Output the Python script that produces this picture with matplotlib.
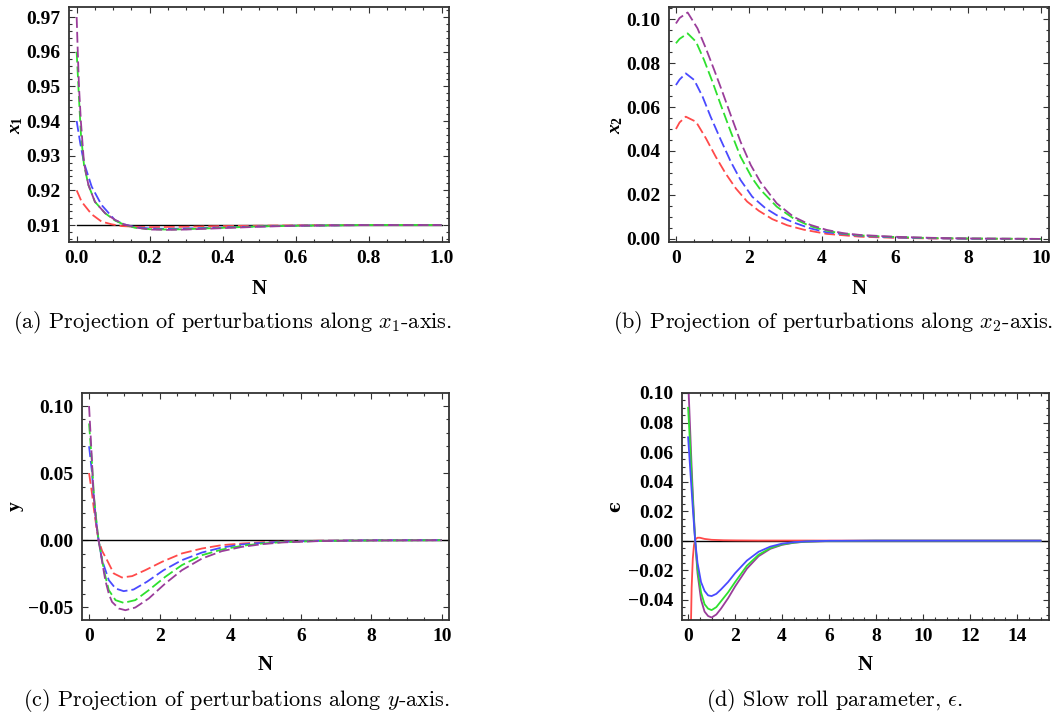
import matplotlib
matplotlib.use("Agg")
import matplotlib.pyplot as plt
from matplotlib.ticker import MultipleLocator, FuncFormatter

# --- fonts: bold Times-like ticks, Computer Modern captions ---
plt.rcParams['mathtext.fontset'] = 'custom'
plt.rcParams['mathtext.rm'] = 'Liberation Serif:bold'
plt.rcParams['mathtext.it'] = 'Liberation Serif:italic:bold'
plt.rcParams['mathtext.bf'] = 'Liberation Serif:bold'

colors = {'red': '#ff4a4a', 'blue': '#4a4aff', 'green': '#2ee02e', 'purple': '#9a3d9a'}
order = ['red', 'blue', 'green', 'purple']

# --- (a) x1 ---
a_n = {
    'purple': [0, 0.003, 0.0063, 0.0118, 0.02, 0.032, 0.05, 0.078, 0.105, 0.13, 0.16, 0.2, 0.25, 0.3, 0.4, 0.5, 0.6, 0.8, 1.0],
    'green': [0, 0.0073, 0.0118, 0.02, 0.032, 0.05, 0.078, 0.105, 0.13, 0.16, 0.2, 0.25, 0.3, 0.4, 0.5, 0.6, 0.8, 1.0],
    'blue': [0, 0.01, 0.02, 0.041, 0.068, 0.105, 0.13, 0.16, 0.2, 0.25, 0.3, 0.4, 0.5, 0.6, 0.8, 1.0],
    'red': [0, 0.0137, 0.041, 0.068, 0.096, 0.123, 0.16, 0.2, 0.3, 0.4, 0.5, 0.6, 0.8, 1.0],
}
a_x1 = {
    'purple': [0.970, 0.960, 0.950, 0.9395, 0.928, 0.9216, 0.9167, 0.9134, 0.9115, 0.9102, 0.9093, 0.9087, 0.9086, 0.9087, 0.9091, 0.9095, 0.9098, 0.9100, 0.9100],
    'green': [0.960, 0.9447, 0.936, 0.9274, 0.9216, 0.9167, 0.9134, 0.9113, 0.9101, 0.9092, 0.9088, 0.9087, 0.9088, 0.9092, 0.9096, 0.9098, 0.9100, 0.9100],
    'blue': [0.940, 0.9335, 0.928, 0.9211, 0.9158, 0.9114, 0.9102, 0.9094, 0.9090, 0.9089, 0.9090, 0.9093, 0.9096, 0.9098, 0.9100, 0.9100],
    'red': [0.920, 0.9167, 0.9131, 0.9110, 0.9102, 0.9097, 0.9095, 0.9094, 0.9095, 0.9097, 0.9098, 0.9099, 0.9100, 0.9100],
}
a_line = 0.91

# --- (b) x2 ---
b_n = {
    'purple': [0, 0.1, 0.32, 0.59, 0.82, 1.05, 1.27, 1.5, 1.77, 2.05, 2.31, 2.76, 3.22, 3.68, 4.13, 4.59, 5.05, 5.96, 7, 8, 10],
    'green': [0, 0.1, 0.32, 0.55, 0.77, 1.0, 1.23, 1.5, 1.77, 2.09, 2.31, 2.76, 3.22, 3.68, 4.13, 4.59, 5.05, 5.96, 7, 8, 10],
    'blue': [0, 0.1, 0.27, 0.5, 0.73, 0.95, 1.23, 1.5, 1.77, 2.09, 2.45, 2.76, 3.22, 3.68, 4.13, 5.05, 5.96, 7, 8, 10],
    'red': [0, 0.1, 0.27, 0.55, 0.82, 1.09, 1.36, 1.64, 1.95, 2.27, 2.64, 3.05, 3.5, 4.13, 5.05, 6, 7, 8, 10],
}
b_x2 = {
    'purple': [0.098, 0.1005, 0.103, 0.0958, 0.0867, 0.0768, 0.067, 0.0564, 0.0442, 0.0336, 0.026, 0.0162, 0.0101, 0.0064, 0.0041, 0.0026, 0.0018, 0.001, 0.0005, 0.0002, 0.0],
    'green': [0.089, 0.091, 0.0935, 0.0897, 0.0814, 0.0715, 0.0609, 0.0488, 0.0374, 0.0276, 0.0225, 0.0147, 0.0093, 0.0058, 0.0037, 0.0024, 0.0016, 0.0009, 0.0004, 0.0002, 0.0],
    'blue': [0.070, 0.0725, 0.0753, 0.0723, 0.0647, 0.0556, 0.045, 0.0352, 0.0268, 0.0192, 0.014, 0.0108, 0.0075, 0.0048, 0.003, 0.0014, 0.0007, 0.0003, 0.0001, 0.0],
    'red': [0.050, 0.053, 0.0556, 0.0533, 0.0458, 0.0374, 0.0298, 0.023, 0.017, 0.0128, 0.009, 0.0062, 0.0042, 0.0023, 0.001, 0.0005, 0.0002, 0.0001, 0.0],
}

# --- (c) y ---
c_n = {
    'purple': [0, 0.076, 0.12, 0.2, 0.27, 0.37, 0.46, 0.56, 0.65, 0.84, 1.03, 1.31, 1.69, 2.16, 2.63, 3.2, 3.76, 4.33, 4.9, 5.46, 6.5, 8, 10],
    'green': [0, 0.076, 0.14, 0.22, 0.27, 0.37, 0.42, 0.56, 0.75, 0.98, 1.31, 1.69, 2.16, 2.63, 3.2, 3.76, 4.33, 4.9, 5.46, 6.5, 8, 10],
    'blue': [0, 0.076, 0.14, 0.22, 0.27, 0.37, 0.56, 0.75, 0.98, 1.26, 1.64, 2.11, 2.63, 3.2, 3.76, 4.33, 4.9, 5.46, 6.5, 8, 10],
    'red': [0, 0.07, 0.14, 0.22, 0.27, 0.37, 0.51, 0.70, 0.93, 1.22, 1.59, 2.07, 2.63, 3.2, 3.76, 4.33, 4.9, 5.46, 6.5, 8, 10],
}
c_y = {
    'purple': [0.100, 0.0623, 0.0375, 0.0127, 0.0, -0.016, -0.0298, -0.040, -0.046, -0.0509, -0.0522, -0.0502, -0.0435, -0.0323, -0.0224, -0.0137, -0.0082, -0.005, -0.003, -0.0017, -0.0007, -0.0002, 0.0],
    'green': [0.087, 0.0598, 0.0325, 0.011, 0.0, -0.0145, -0.0224, -0.0373, -0.0447, -0.0467, -0.0447, -0.0373, -0.0273, -0.0186, -0.0112, -0.007, -0.0042, -0.0025, -0.0015, -0.0006, -0.0002, 0.0],
    'blue': [0.070, 0.0524, 0.0301, 0.010, 0.0, -0.015, -0.0298, -0.036, -0.038, -0.0368, -0.031, -0.0224, -0.0149, -0.0092, -0.0055, -0.0032, -0.002, -0.0012, -0.0005, -0.0001, 0.0],
    'red': [0.050, 0.0375, 0.0226, 0.0077, 0.0, -0.008, -0.0149, -0.0248, -0.0278, -0.0268, -0.0224, -0.0161, -0.0099, -0.0062, -0.0037, -0.0025, -0.0015, -0.001, -0.0004, -0.0001, 0.0],
}

# --- (d) epsilon ---
d_n_main = [0, 0.05, 0.1, 0.15, 0.2, 0.3, 0.4, 0.55, 0.7, 0.85, 1.0, 1.2, 1.4, 1.7, 2.0, 2.5, 3.0, 3.5, 4.0, 4.5, 5.0, 6.0, 8.0, 15]
d_eps = {
    'purple': [0.11, 0.09, 0.07, 0.05, 0.032, 0.0, -0.022, -0.040, -0.048, -0.051, -0.052, -0.050, -0.046, -0.039, -0.031, -0.019, -0.0105, -0.0055, -0.0028, -0.0014, -0.0007, -0.0002, 0, 0],
    'green': [0.09, 0.075, 0.06, 0.043, 0.028, 0.0, -0.019, -0.035, -0.043, -0.046, -0.047, -0.045, -0.041, -0.035, -0.028, -0.017, -0.0095, -0.005, -0.0025, -0.0013, -0.0006, -0.0002, 0, 0],
    'blue': [0.07, 0.058, 0.046, 0.034, 0.022, 0.0, -0.015, -0.028, -0.034, -0.037, -0.0375, -0.036, -0.033, -0.028, -0.022, -0.0135, -0.0075, -0.004, -0.002, -0.001, -0.0005, -0.0001, 0, 0],
}
d_n_red = [0, 0.05, 0.1, 0.15, 0.2, 0.25, 0.3, 0.4, 0.5, 0.7, 1.0, 1.5, 2, 3, 5, 8, 15]
d_eps_red = [-0.30, -0.16, -0.075, -0.032, -0.012, -0.003, 0.0008, 0.002, 0.002, 0.0012, 0.0006, 0.0003, 0.0002, 0.0001, 0.0001, 0.0, 0.0]

captions = [r'(a) Projection of perturbations along $x_1$-axis.',
            r'(b) Projection of perturbations along $x_2$-axis.',
            r'(c) Projection of perturbations along $y$-axis.',
            r'(d) Slow roll parameter, $\epsilon$.']

W, H = 1060, 715
fig = plt.figure(figsize=(W / 100, H / 100), dpi=100)


def make_ax(l, t, r, b):
    return fig.add_axes([l / W, 1 - b / H, (r - l) / W, (b - t) / H])


def fmt(spec):
    def f(v, pos):
        if abs(v) < 1e-12:
            v = 0.0
        return (spec % v).replace('-', '\u2212')
    return FuncFormatter(f)


def style(ax, xmaj, xmin, ymaj, ymin, xfmt, yfmt):
    ax.xaxis.set_major_locator(MultipleLocator(xmaj))
    ax.xaxis.set_minor_locator(MultipleLocator(xmin))
    ax.yaxis.set_major_locator(MultipleLocator(ymaj))
    ax.yaxis.set_minor_locator(MultipleLocator(ymin))
    ax.xaxis.set_major_formatter(fmt(xfmt))
    ax.yaxis.set_major_formatter(fmt(yfmt))
    ax.tick_params(which='both', direction='in', top=True, right=True, width=0.8, color='#333333')
    ax.tick_params(which='major', length=4, pad=6)
    ax.tick_params(which='minor', length=2.2)
    for lab in ax.get_xticklabels() + ax.get_yticklabels():
        lab.set_family('Liberation Serif')
        lab.set_weight('bold')
        lab.set_size(14)
    for s in ax.spines.values():
        s.set_linewidth(1.3)
        s.set_color('#333333')


def labels(ax, ylab, ylab_kw, xlab_y, ylab_x):
    ax.set_xlabel('N', family='Liberation Serif', weight='bold', size=15)
    ax.set_ylabel(ylab, **ylab_kw)
    ax.xaxis.set_label_coords(0.5, xlab_y)
    ax.xaxis.label.set_va('center')
    ax.yaxis.set_label_coords(ylab_x, 0.5)
    ax.yaxis.label.set_va('center')
    ax.yaxis.label.set_ha('center')


dash = (6, 2.2)

# (a)
ax = make_ax(69, 7, 449, 242)
ax.plot([0, 1], [a_line, a_line], color='black', lw=1.0)
for c in order:
    ax.plot(a_n[c], a_x1[c], color=colors[c], lw=1.3, dashes=dash)
ax.set_xlim(-0.021, 1.02)
ax.set_ylim(0.9051, 0.9729)
style(ax, 0.2, 0.05, 0.01, 0.002, '%.1f', '%.2f')
labels(ax, r'$x_1$', dict(size=14), -0.2, -0.142)

# (b)
ax = make_ax(669, 7, 1049, 242)
for c in order:
    ax.plot(b_n[c], b_x2[c], color=colors[c], lw=1.3, dashes=dash)
ax.set_xlim(-0.19, 10.22)
ax.set_ylim(-0.0014, 0.1055)
style(ax, 2, 0.5, 0.02, 0.005, '%d', '%.2f')
labels(ax, r'$x_2$', dict(size=14), -0.2, -0.142)

# (c)
ax = make_ax(82, 393, 449, 620)
ax.axhline(0, color='black', lw=1.0)
for c in order:
    ax.plot(c_n[c], c_y[c], color=colors[c], lw=1.3, dashes=dash)
ax.set_xlim(-0.2, 10.2)
ax.set_ylim(-0.0595, 0.1097)
style(ax, 2, 0.5, 0.05, 0.01, '%d', '%.2f')
labels(ax, 'y', dict(family='Liberation Serif', weight='bold', size=14), -0.198, -0.183)

# (d)
ax = make_ax(682, 393, 1049, 620)
ax.axhline(0, color='black', lw=1.0)
ax.plot(d_n_red, d_eps_red, color=colors['red'], lw=1.3)
for c in ['purple', 'green', 'blue']:
    ax.plot(d_n_main, d_eps[c], color=colors[c], lw=1.3)
ax.set_xlim(-0.26, 15.36)
ax.set_ylim(-0.0537, 0.10)
style(ax, 2, 0.5, 0.02, 0.005, '%d', '%.2f')
labels(ax, 'ϵ', dict(family=['DejaVu Serif'], weight='bold', size=13), -0.198, -0.183)

# captions
cap_pos = [(233, 322), (833, 322), (236, 700), (835, 700)]
for (cx, cy), txt in zip(cap_pos, captions):
    fig.text(cx / W, 1 - cy / H, txt, family='cmr10', math_fontfamily='cm',
             size=16, ha='center', va='center')

fig.savefig('out.png', dpi=100)
